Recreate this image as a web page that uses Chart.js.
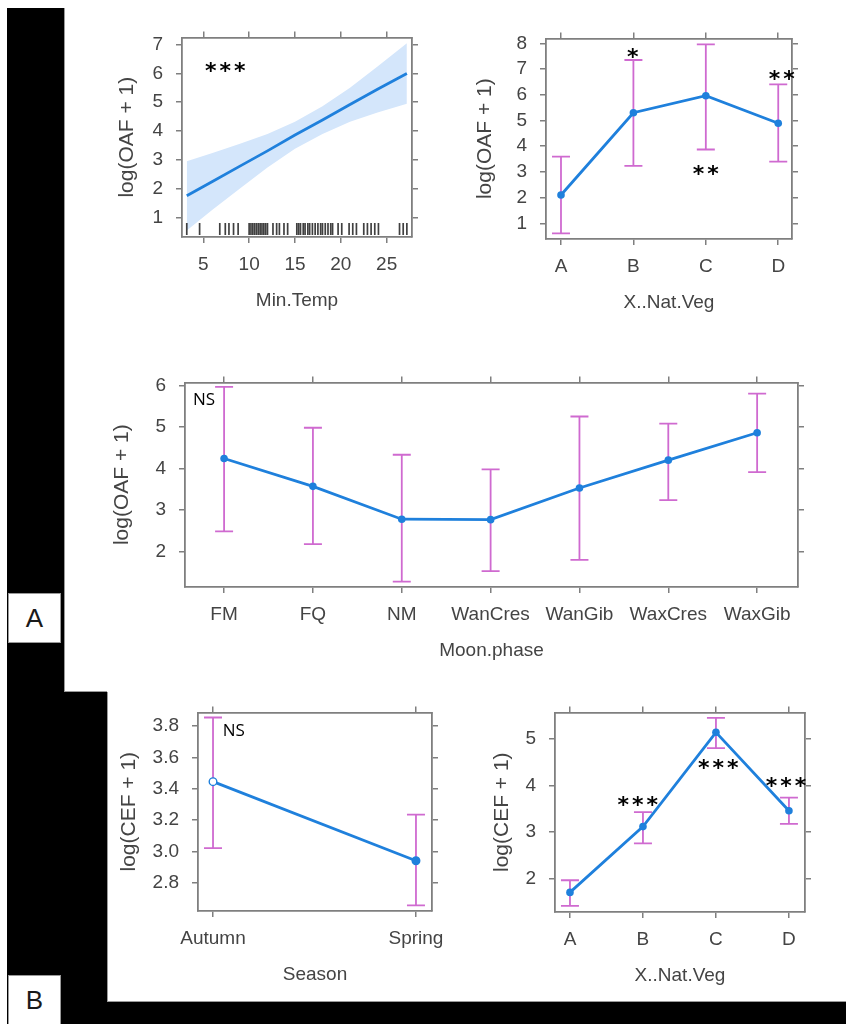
<!DOCTYPE html>
<html>
<head>
<meta charset="utf-8">
<script src="https://cdn.jsdelivr.net/npm/chart.js@4.4.1/dist/chart.umd.min.js"></script>
<style>
  body { margin: 0; background: #fff; }
  #page { position: relative; width: 846px; height: 1024px; overflow: hidden; background: #fff; }
  .blk { position: absolute; background: #000; }
  .edge { position: absolute; background: #9a9a9a; }
  .tag { position: absolute; box-sizing: border-box; background: #fff; border: 1px solid #999;
         font: 26px 'Liberation Sans', Arial, sans-serif; color: #1a1a1a;
         display: flex; align-items: center; justify-content: center; }
  canvas { position: absolute; }
</style>
</head>
<body>
<div id="page">
  <div class="blk" style="left:7px;top:8px;width:57px;height:684px"></div>
  <div class="blk" style="left:7px;top:692px;width:100px;height:310px"></div>
  <div class="blk" style="left:7px;top:1002px;width:839px;height:22px"></div>
  <div class="edge" style="left:64px;top:8px;width:1px;height:684px"></div>
  <div class="edge" style="left:64px;top:691px;width:43px;height:1px"></div>
  <div class="edge" style="left:107px;top:692px;width:1px;height:310px"></div>
  <div class="edge" style="left:107px;top:1001px;width:739px;height:1px"></div>
  <div class="tag" style="left:8px;top:593px;width:53px;height:50px">A</div>
  <div class="tag" style="left:8px;top:975px;width:53px;height:60px;padding-bottom:10px">B</div>

  <canvas id="tempChart"></canvas>
  <canvas id="vegOafChart"></canvas>
  <canvas id="moonChart"></canvas>
  <canvas id="seasonChart"></canvas>
  <canvas id="vegCefChart"></canvas>
</div>

<script>
// ---- DATA ----

// A, top left: log(OAF + 1) against Min.Temp
const tempX     = [3.2, 6, 9, 12, 15, 18, 21, 24, 27.2];
const tempFit   = [1.75, 2.25, 2.78, 3.31, 3.86, 4.38, 4.92, 5.45, 6.0];
const tempUpper = [2.95, 3.24, 3.56, 3.90, 4.32, 4.86, 5.50, 6.24, 7.05];
const tempLower = [0.55, 1.27, 2.00, 2.73, 3.38, 3.90, 4.32, 4.64, 4.95];
const tempRug   = [3.2, 4.6, 6.8, 7.4, 7.8, 8.3, 8.8, 10.0, 10.2, 10.4, 10.6, 10.8, 11.0, 11.2,
                   11.4, 11.6, 11.8, 12.0, 12.6, 13.0, 13.3, 13.8, 14.2, 15.2, 15.4, 15.6, 15.9,
                   16.1, 16.4, 16.6, 16.9, 17.2, 17.5, 17.8, 18.0, 18.3, 18.6, 18.9, 19.1, 19.7,
                   20.1, 20.9, 21.3, 21.7, 22.5, 22.9, 23.3, 23.7, 24.1, 26.4, 26.8, 27.2];
const tempTicks = [5, 10, 15, 20, 25];
const oafTempTicks = [1, 2, 3, 4, 5, 6, 7];

// A, top right: log(OAF + 1) against X..Nat.Veg
const vegCats    = ['A', 'B', 'C', 'D'];
const oafVegMean = [2.1, 5.3, 5.96, 4.89];
const oafVegLow  = [0.61, 3.23, 3.87, 3.4];
const oafVegHigh = [3.59, 7.35, 7.96, 6.4];
const oafVegTicks = [1, 2, 3, 4, 5, 6, 7, 8];

// A, middle: log(OAF + 1) against Moon.phase
const moonCats = ['FM', 'FQ', 'NM', 'WanCres', 'WanGib', 'WaxCres', 'WaxGib'];
const moonMean = [4.24, 3.57, 2.78, 2.77, 3.53, 4.2, 4.86];
const moonLow  = [2.49, 2.18, 1.28, 1.53, 1.8, 3.24, 3.91];
const moonHigh = [5.96, 4.98, 4.33, 3.98, 5.25, 5.08, 5.8];
const moonTicks = [2, 3, 4, 5, 6];

// B, left: log(CEF + 1) against Season
const seasonCats    = ['Autumn', 'Spring'];
const cefSeasonMean = [3.445, 2.94];
const cefSeasonLow  = [3.02, 2.655];
const cefSeasonHigh = [3.855, 3.235];
const cefSeasonTicks = [2.8, 3.0, 3.2, 3.4, 3.6, 3.8];

// B, right: log(CEF + 1) against X..Nat.Veg
const cefVegMean = [1.71, 3.12, 5.14, 3.46];
const cefVegLow  = [1.42, 2.76, 4.8, 3.18];
const cefVegHigh = [1.97, 3.43, 5.45, 3.74];
const cefVegTicks = [2, 3, 4, 5];

// ---- STYLE ----
const LP = 100, TP = 20, RP = 40, BP = 90;
const FRAME = '#7f7f7f', LINE = '#1f80dc', ERR = '#cf6ad0', BAND = '#d4e6fb', TXT = '#444';
Chart.defaults.font.family = "'Liberation Sans', Arial, sans-serif";
const STAR = "bold 22px 'DejaVu Sans', sans-serif";
const NSFONT = "17px 'Open Sans', sans-serif";

function axis(pos, min, max, ticks, size, show, label, title) {
  const horiz = pos === 'top' || pos === 'bottom';
  const o = {
    type: 'linear', position: pos, min: min, max: max, bounds: 'data',
    afterBuildTicks: s => { s.ticks = ticks.map(v => ({ value: v })); },
    afterFit: s => { if (horiz) s.height = size; else s.width = size; },
    grid: { drawOnChartArea: false, drawTicks: true, tickLength: 6, color: FRAME, lineWidth: 1.5 },
    border: { display: true, color: FRAME, width: 1.8 },
    ticks: { display: show, autoSkip: false, maxRotation: 0, minRotation: 0,
             padding: horiz ? 10 : 13, color: TXT, font: { size: 19 } },
    title: title || { display: false }
  };
  if (label) o.ticks.callback = label;
  return o;
}

function errorBars(low, high) {
  return {
    id: 'errorBars',
    beforeDatasetsDraw(chart) {
      const { ctx, scales: { x, y } } = chart;
      ctx.save();
      ctx.strokeStyle = ERR;
      ctx.lineWidth = 1.8;
      low.forEach((lo, i) => {
        const px = x.getPixelForValue(i), a = y.getPixelForValue(lo), b = y.getPixelForValue(high[i]);
        ctx.beginPath();
        ctx.moveTo(px, a); ctx.lineTo(px, b);
        ctx.moveTo(px - 9, a); ctx.lineTo(px + 9, a);
        ctx.moveTo(px - 9, b); ctx.lineTo(px + 9, b);
        ctx.stroke();
      });
      ctx.restore();
    }
  };
}

function rug(values) {
  return {
    id: 'rug',
    afterDatasetsDraw(chart) {
      const { ctx, chartArea, scales: { x } } = chart;
      ctx.save();
      ctx.strokeStyle = 'rgba(0,0,0,0.75)';
      ctx.lineWidth = 1.7;
      values.forEach(v => {
        const px = x.getPixelForValue(v);
        ctx.beginPath();
        ctx.moveTo(px, chartArea.bottom - 2);
        ctx.lineTo(px, chartArea.bottom - 14);
        ctx.stroke();
      });
      ctx.restore();
    }
  };
}

// text marks: [x, y, text, font, lift, align]
function notes(list) {
  return {
    id: 'notes',
    afterDatasetsDraw(chart) {
      const { ctx, scales: { x, y } } = chart;
      ctx.save();
      ctx.fillStyle = '#000';
      ctx.textBaseline = 'alphabetic';
      list.forEach(n => {
        ctx.font = n[3];
        ctx.textAlign = n[5] || 'center';
        ctx.letterSpacing = n[2].startsWith('*') ? '3px' : '0px';
        const size = parseFloat(n[3].replace('bold ', ''));
        const shift = n[2].startsWith('*') ? 1.5 : 0;
        ctx.fillText(n[2], x.getPixelForValue(n[0]) + shift, y.getPixelForValue(n[1]) + n[4] * size);
      });
      ctx.restore();
    }
  };
}

function pts(xs, ys) { return ys.map((v, i) => ({ x: xs[i], y: v })); }
function idx(ys) { return ys.map((v, i) => ({ x: i, y: v })); }

function lineSet(data, fills) {
  return { data: data, borderColor: LINE, borderWidth: 2.8, pointRadius: 3.8, pointBorderWidth: fills ? 1.4 : 0,
           pointBorderColor: LINE, pointBackgroundColor: fills || LINE, tension: 0, fill: false };
}

function makePanel(id, box, p) {
  const cv = document.getElementById(id);
  cv.width = box.r - box.l + LP + RP;
  cv.height = box.b - box.t + TP + BP;
  cv.style.left = (box.l - LP) + 'px';
  cv.style.top = (box.t - TP) + 'px';
  const xTitle = { display: true, text: p.xTitle, color: TXT, font: { size: 19 },
                   padding: { top: 0, bottom: BP - 64 - 11.4 } };
  const yTitle = { display: true, text: p.yTitle, color: TXT, font: { size: 21 },
                   padding: { top: LP - p.yTitleGap - 12.6, bottom: 0 } };
  new Chart(cv, {
    type: 'line',
    data: { datasets: p.datasets },
    options: {
      responsive: false, animation: false, events: [],
      layout: { padding: 0 },
      plugins: { legend: { display: false }, tooltip: { enabled: false },
                 filler: { drawTime: 'beforeDatasetsDraw' } },
      scales: {
        x: axis('bottom', p.x[0], p.x[1], p.xTicks, BP, true, p.xLabel, xTitle),
        x2: axis('top', p.x[0], p.x[1], p.xTicks, TP, false),
        y: axis('left', p.y[0], p.y[1], p.yTicks, LP, true, p.yLabel, yTitle),
        y2: axis('right', p.y[0], p.y[1], p.yTicks, RP, false)
      }
    },
    plugins: p.plugins
  });
}

const catIdx = n => Array.from({ length: n }, (_, i) => i);

makePanel('tempChart', { l: 182, t: 33, r: 412, b: 237 }, {
  x: [2.68, 27.76], y: [0.32, 7.25], xTicks: tempTicks, yTicks: oafTempTicks,
  xTitle: 'Min.Temp', yTitle: 'log(OAF + 1)', yTitleGap: 55,
  datasets: [
    { data: pts(tempX, tempLower), borderWidth: 0, pointRadius: 0, fill: false },
    { data: pts(tempX, tempUpper), borderWidth: 0, pointRadius: 0, fill: '-1', backgroundColor: BAND },
    { data: pts(tempX, tempFit), borderColor: LINE, borderWidth: 2.8, pointRadius: 0, fill: false }
  ],
  plugins: [rug(tempRug), notes([[7.4, 6.27, '***', STAR, 0.56]])]
});

makePanel('vegOafChart', { l: 546, t: 34, r: 792, b: 239 }, {
  x: [-0.207, 3.19], y: [0.39, 8.19], xTicks: catIdx(4), yTicks: oafVegTicks,
  xLabel: v => vegCats[v], xTitle: 'X..Nat.Veg', yTitle: 'log(OAF + 1)', yTitleGap: 61,
  datasets: [lineSet(idx(oafVegMean))],
  plugins: [errorBars(oafVegLow, oafVegHigh),
            notes([[0.99, 7.66, '*', STAR, 0.56], [2, 3.14, '**', STAR, 0.56], [3.05, 6.82, '**', STAR, 0.56]])]
});

makePanel('moonChart', { l: 185, t: 378, r: 798, b: 587 }, {
  x: [-0.44, 6.46], y: [1.15, 6.07], xTicks: catIdx(7), yTicks: moonTicks,
  xLabel: v => moonCats[v], xTitle: 'Moon.phase', yTitle: 'log(OAF + 1)', yTitleGap: 63,
  datasets: [lineSet(idx(moonMean))],
  plugins: [errorBars(moonLow, moonHigh), notes([[-0.35, 5.67, 'NS', NSFONT, 0.36, 'left']])]
});

makePanel('seasonChart', { l: 198, t: 708, r: 432, b: 911 }, {
  x: [-0.074, 1.079], y: [2.619, 3.8875], xTicks: catIdx(2), yTicks: cefSeasonTicks,
  xLabel: v => seasonCats[v], yLabel: v => v.toFixed(1),
  xTitle: 'Season', yTitle: 'log(CEF + 1)', yTitleGap: 69,
  datasets: [lineSet(idx(cefSeasonMean), ['#ffffff', LINE])],
  plugins: [errorBars(cefSeasonLow, cefSeasonHigh), notes([[0.048, 3.775, 'NS', NSFONT, 0.36, 'left']])]
});

makePanel('vegCefChart', { l: 555, t: 708, r: 805, b: 912 }, {
  x: [-0.205, 3.22], y: [1.29, 5.566], xTicks: catIdx(4), yTicks: cefVegTicks,
  xLabel: v => vegCats[v], xTitle: 'X..Nat.Veg', yTitle: 'log(CEF + 1)', yTitleGap: 53,
  datasets: [lineSet(idx(cefVegMean))],
  plugins: [errorBars(cefVegLow, cefVegHigh),
            notes([[0.93, 3.70, '***', STAR, 0.56], [2.03, 4.48, '***', STAR, 0.56], [2.96, 4.10, '***', STAR, 0.56]])]
});
</script>
</body>
</html>
